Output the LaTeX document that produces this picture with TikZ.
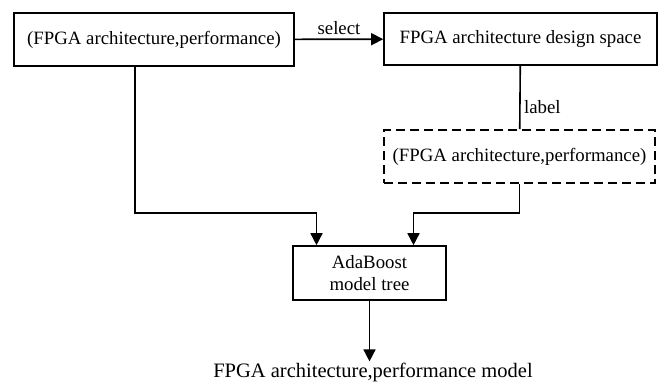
\documentclass[tikz,border=0pt]{standalone}
\usepackage{fontspec}
\setmainfont{Liberation Serif}
\usetikzlibrary{arrows.meta}

\begin{document}
\begin{tikzpicture}[x=1pt,y=-1pt,
	main_node/.style={rectangle,draw,line width=1.6pt,inner sep=2pt,align=center},
	dash_node/.style={main_node,line width=2pt,dash pattern=on 9pt off 5pt},
	arr/.style={-{Triangle[length=12pt,width=12pt]},line width=1.6pt},
	font=\fontsize{18.8}{22}\selectfont]
				\useasboundingbox (0,0) rectangle (659,383);

				\node[main_node,minimum width=280pt,minimum height=53pt] (1) at (154,39.5){(FPGA architecture,performance)};
				\node[main_node,minimum width=273pt,minimum height=52pt] (2) at (520.5,39){FPGA architecture design space};
				\node[dash_node,minimum width=271pt,minimum height=53pt] (3) at (519.5,156.5){(FPGA architecture,performance)};
				\node[main_node,minimum width=153pt,minimum height=54pt] (4) at (369.5,273){AdaBoost\\model tree};
				\node[inner sep=1pt,font=\fontsize{20.5}{24}\selectfont] (5) at (373,372){FPGA architecture,performance model};

				\coordinate (c1) at (135,213); %corner of the left branch

				\path[draw,line width=1.6pt]
				(1) edge[arr] node[above] {select} (2)
				(2) edge node[right,pos=0.65] {label} (3)
				;

				\draw[arr] (1.south -| c1) -- (c1) -| ([xshift=-53pt]4.north);
				\draw[arr] (3.south) -- (3.south |- c1) -| ([xshift=44pt]4.north);
				\draw[arr] (4.south) -- (5.north -| 4.south);
\end{tikzpicture}
\end{document}
